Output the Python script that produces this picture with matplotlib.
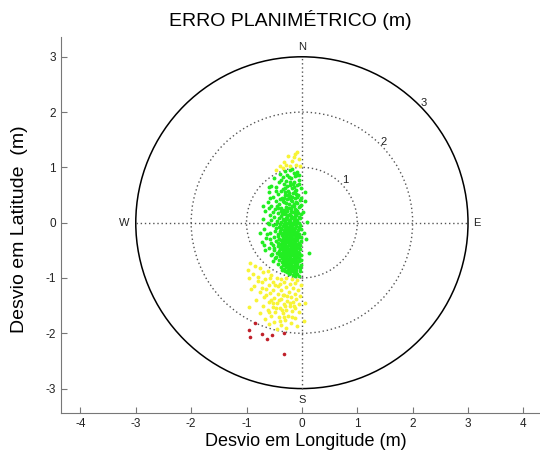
from matplotlib import pyplot as plt
from matplotlib.patches import Circle
import numpy as np

# pontos (m)
green_x = [-0.30, -0.22, -0.15, -0.40, -0.08, -0.26, -0.12, -0.35, -0.50, -0.19,
           -0.05, -0.28, -0.42, -0.14, -0.33, -0.22, -0.08, -0.55, -0.46, -0.18, -0.30, -0.11, -0.38, -0.02, 0.05,
           -0.25, -0.60, -0.16, -0.44, -0.31, -0.07, -0.21, -0.52, -0.36, -0.12, -0.27, -0.03, -0.47, -0.17, -0.62,
           -0.33, -0.09, -0.41, -0.24, -0.14, -0.55, -0.29, -0.05, -0.37, -0.19, -0.48, -0.11, -0.66, -0.26, -0.34, 0.02,
           -0.16, -0.43, -0.07, -0.30, -0.22, -0.58, -0.38, -0.13, -0.27, -0.50, -0.03, -0.19, -0.34, -0.70, -0.09, -0.24,
           -0.45, -0.15, -0.31, -0.62, -0.05, 0.10,
           -0.20, -0.40, -0.12, -0.28, -0.53, -0.35, -0.06, -0.23, -0.17, -0.46, -0.31, -0.02, -0.68, -0.26, -0.14, -0.39,
           -0.09, -0.21, -0.57, -0.33, -0.27, -0.43, -0.15, 0.04,
           -0.05, -0.24, -0.36, -0.11, -0.50, -0.19, -0.30, -0.64, -0.08, -0.41, -0.25, -0.15, -0.34, -0.02, -0.47, -0.21,
           -0.28, -0.12, -0.55, -0.38, -0.18, -0.06, -0.72,
           -0.31, -0.24, -0.44, -0.10, -0.35, -0.16, -0.60, -0.27, -0.03, -0.40, -0.20, -0.50, -0.13, -0.33, -0.07, -0.25,
           -0.45, -0.17, -0.38, -0.29, -0.01, -0.56, -0.11,
           -0.22, -0.34, -0.48, -0.06, -0.27, -0.15, -0.41, -0.31, -0.20, -0.09, -0.52, -0.36, -0.25, -0.13, -0.02, -0.44,
           -0.30, -0.18,
           -0.38, -0.08, -0.24, -0.14, -0.32, -0.03, -0.20, -0.27, -0.10, -0.16, -0.05,
           -0.26, -0.13, -0.32, -0.20, -0.08, -0.36, -0.25, -0.10, -0.18, -0.41, -0.29, -0.13, -0.22, -0.37, -0.08, -0.27,
           -0.15, -0.33, -0.21, -0.10, -0.42, -0.29, -0.16, -0.37, -0.22, -0.07, -0.31, -0.19, -0.12, -0.38, -0.23, -0.09,
           -0.29, -0.17, -0.43, -0.34, -0.23, -0.12, -0.27, -0.19, -0.38, -0.09, -0.30, -0.24, -0.16, -0.43, -0.33, -0.09,
           -0.22, -0.27, -0.14, -0.37, -0.20, -0.30, -0.06, -0.24, -0.13, -0.35, -0.17, -0.28, -0.42, -0.22, -0.10, -0.31,
           -0.19, -0.26, -0.40, -0.14, -0.29, -0.21, -0.35, -0.11, -0.26, -0.17, -0.32, -0.22, -0.11, -0.28, -0.18, -0.23,
           -0.23, -0.12, -0.35, -0.26, -0.16, -0.38, -0.24, -0.09, -0.32, -0.20, -0.40, -0.08, -0.28, -0.15, -0.45, -0.02,
           -0.52, -0.60, -0.48, -0.58, -0.66, -0.52, -0.46, -0.75, -0.70, -0.60, 0.08, 0.06, 0.12,
           -0.02, -0.04, -0.01, -0.03, -0.05, -0.02, -0.04, -0.01, -0.03, -0.06,
           -0.11, -0.18, -0.24, -0.31, -0.12, -0.20, -0.28, -0.15, -0.33, -0.25,
           -0.11, -0.18, -0.30, -0.37, -0.24, -0.13, -0.06, -0.20, -0.33, -0.27,
           -0.16, -0.08, -0.35, -0.21, -0.13, -0.28, -0.06, -0.17, -0.32, -0.22,
           -0.12, -0.26, -0.36, -0.19, -0.06, -0.30, -0.13, -0.24, -0.18, -0.33,
           -0.09, -0.26, -0.15, -0.21, -0.38, -0.30, -0.10, -0.18, -0.24, -0.36,
           -0.14, -0.28, -0.20, -0.07, -0.33, -0.24, -0.15, -0.09, -0.30, -0.22,
           -0.36, -0.18, -0.26, -0.12, -0.05, -0.31, -0.22, -0.15, -0.28, -0.08,
           -0.20, -0.35, -0.14, -0.25, -0.06, -0.19, -0.32, -0.11, -0.25, -0.15,
           -0.08, -0.21, -0.13, -0.30, -0.36, -0.17, -0.27, -0.14, -0.22, -0.05,
           -0.30, -0.10, -0.35, -0.24, -0.43, -0.38, -0.56, -0.47, -0.42, -0.50,
           -0.54, -0.41, -0.63, -0.60, -0.57, -0.47, -0.68, -0.06, -0.17]
green_y = [0.93, 0.95, 0.90, 0.88, 0.92, 0.86, 0.84, 0.82, 0.80, 0.80,
           0.78, 0.76, 0.74, 0.73, 0.70, 0.69, 0.68, 0.66, 0.64, 0.63, 0.62, 0.60, 0.58, 0.62, 0.55,
           0.57, 0.55, 0.54, 0.52, 0.50, 0.50, 0.48, 0.46, 0.45, 0.44, 0.42, 0.41, 0.40, 0.39, 0.38,
           0.37, 0.36, 0.34, 0.33, 0.31, 0.30, 0.29, 0.28, 0.27, 0.26, 0.24, 0.23, 0.22, 0.21, 0.20, 0.20,
           0.19, 0.18, 0.17, 0.16, 0.15, 0.14, 0.12, 0.12, 0.11, 0.10, 0.09, 0.08, 0.07, 0.06, 0.05, 0.04,
           0.03, 0.02, 0.01, 0.00, 0.00, 0.02,
           -0.01, -0.02, -0.03, -0.04, -0.05, -0.06, -0.07, -0.08, -0.09, -0.10, -0.11, -0.12, -0.12, -0.13, -0.14, -0.15,
           -0.16, -0.17, -0.18, -0.18, -0.19, -0.20, -0.20, -0.19,
           -0.21, -0.22, -0.23, -0.24, -0.25, -0.26, -0.27, -0.28, -0.28, -0.29, -0.30, -0.31, -0.32, -0.33, -0.34, -0.34,
           -0.35, -0.36, -0.37, -0.38, -0.39, -0.39, -0.35,
           -0.40, -0.41, -0.42, -0.43, -0.44, -0.45, -0.46, -0.47, -0.47, -0.48, -0.49, -0.50, -0.51, -0.52, -0.53, -0.54,
           -0.55, -0.56, -0.57, -0.58, -0.58, -0.59, -0.60,
           -0.61, -0.62, -0.63, -0.64, -0.65, -0.66, -0.67, -0.69, -0.70, -0.71, -0.70, -0.72, -0.74, -0.75, -0.76, -0.75,
           -0.77, -0.78,
           -0.80, -0.81, -0.82, -0.84, -0.85, -0.87, -0.88, -0.90, -0.91, -0.94, -0.96,
           0.27, 0.25, 0.23, 0.22, 0.21, 0.16, 0.14, 0.14, 0.11, 0.08, 0.06, 0.06, 0.03, 0.02, 0.02, -0.01,
           -0.02, -0.03, -0.05, -0.06, -0.07, -0.08, -0.11, -0.12, -0.13, -0.13, -0.15, -0.15, -0.18, -0.19, -0.19, -0.22,
           -0.23, -0.23, -0.24, -0.26, -0.27, -0.28, -0.28, -0.30, -0.31, -0.32, -0.33, -0.36, -0.36, -0.37, -0.37, -0.38,
           -0.39, -0.42, -0.41, -0.41, -0.44, -0.45, -0.45, -0.48, -0.47, -0.49, -0.52, -0.51, -0.52, -0.55, -0.56, -0.55,
           -0.59, -0.60, -0.61, -0.63, -0.63, -0.66, -0.66, -0.68, -0.69, -0.72, -0.73, -0.77, -0.79, -0.81, -0.85, -0.93,
           0.53, 0.57, 0.61, 0.66, 0.70, 0.77, 0.82, 0.86, 0.45, 0.41, 0.43, 0.46, 0.36, 0.34, 0.31, 0.32,
           0.19, -0.02, -0.15, -0.30, -0.50, -0.40, -0.62, -0.18, 0.30, 0.65, -0.30, 0.40, -0.55,
           0.15, -0.05, -0.25, -0.40, -0.55, -0.68, -0.82, 0.45, 0.30, 0.10,
           0.38, 0.30, 0.26, 0.18, 0.18, 0.12, 0.09, 0.05, 0.04, 0.00,
           -0.01, -0.04, -0.05, -0.09, -0.10, -0.10, -0.10, -0.12, -0.14, -0.16,
           -0.16, -0.18, -0.21, -0.21, -0.22, -0.25, -0.26, -0.27, -0.29, -0.31,
           -0.33, -0.34, -0.35, -0.35, -0.36, -0.39, -0.39, -0.40, -0.42, -0.43,
           -0.44, -0.45, -0.46, -0.47, -0.46, -0.49, -0.50, -0.50, -0.52, -0.54,
           -0.54, -0.56, -0.57, -0.58, -0.59, -0.58, -0.60, -0.62, -0.61, -0.63,
           -0.64, -0.65, -0.67, -0.67, -0.69, -0.70, -0.71, -0.72, -0.74, -0.74,
           -0.75, -0.77, -0.78, -0.79, -0.80, -0.82, -0.83, -0.85, -0.86, -0.89,
           -0.93, -0.91, -0.97, -0.88, -0.86, 0.47, 0.50, 0.64, 0.74, 0.70,
           0.56, 0.52, 0.40, 0.44, 0.26, 0.22, 0.04, -0.03, -0.30, -0.45,
           -0.57, -0.56, -0.20, 0.26, 0.45, 0.58, -0.40, 0.87, 0.97]

yellow_x = [-0.25, -0.12, -0.32, -0.18, -0.05, -0.40, -0.28, -0.10, -0.22, -0.35, -0.46, -0.04, -0.15, -0.08,
            -0.94, -0.85, -0.98, -0.76, -0.88, -0.70, -0.62, -0.95, -0.80, -0.55, -0.66, -0.45, -0.38, -0.28, -0.18, -0.08,
            -0.72, -0.52, -0.60, -0.33, -0.22, -0.12, -0.02, -0.86, -0.44, -0.28, -0.65, -0.16, -0.52, -0.37, -0.07, -0.76,
            -0.24, -0.58, -0.44, -0.13, -0.32, -0.68, -0.20, -0.03, -0.50, -0.38, -0.10, -0.82, -0.27, -0.60, -0.16, -0.45,
            -0.33, -0.05, -0.70, -0.22, -0.53, -0.40, -0.12, -0.28, -0.62, -0.48, -0.18, -0.35, -0.75, -0.06, -0.25, -0.56,
            -0.42, -0.13, -0.66, -0.30, -0.50, -0.20, -0.38, -0.60, -0.08, -0.28, -0.45, 0.03, 0.05, -0.92, -0.95,
            -0.57, -0.48, -0.40, -0.35, -0.27, -0.55, -0.42, -0.30, -0.46, -0.36, -0.22, -0.14, -0.33, -0.52, -0.65, -0.72,
            -0.80, -0.60, -0.40, -0.18]
yellow_y = [1.20, 1.24, 1.10, 1.12, 1.15, 1.02, 1.04, 1.05, 1.02, 0.98, 0.95, 1.02, 1.18, 1.28,
            -0.73, -0.78, -0.85, -0.82, -0.92, -0.90, -0.88, -1.00, -0.98, -0.95, -1.02, -1.00, -1.02, -1.00, -1.02, -1.03,
            -1.08, -1.08, -1.12, -1.07, -1.10, -1.09, -1.12, -1.14, -1.15, -1.16, -1.20, -1.18, -1.22, -1.22, -1.21, -1.26,
            -1.25, -1.28, -1.29, -1.29, -1.31, -1.34, -1.34, -1.33, -1.36, -1.38, -1.38, -1.40, -1.41, -1.43, -1.44, -1.45,
            -1.47, -1.47, -1.50, -1.50, -1.52, -1.54, -1.54, -1.57, -1.58, -1.61, -1.60, -1.63, -1.64, -1.62, -1.68, -1.68,
            -1.71, -1.72, -1.74, -1.76, -1.79, -1.81, -1.85, -1.84, -1.86, -1.90, -1.92, -1.78, -1.45, -1.20, -1.52,
            -1.00, -1.12, -1.10, -1.30, -1.33, -1.40, -1.40, -1.50, -1.55, -1.58, -1.45, -1.50, -1.70, -1.46, -1.30, -1.18,
            -1.05, -1.62, -1.78, -1.70]

red_x = [-0.96, -0.94, -0.72, -0.63, -0.54, -0.32, -0.32, -0.85]
red_y = [-1.94, -2.07, -2.01, -2.10, -2.03, -1.99, -2.37, -1.81]

raios = [1, 2, 3]
x_ticks = [-4, -3, -2, -1, 0, 1, 2, 3, 4]
y_ticks = [-3, -2, -1, 0, 1, 2, 3]

plt.rcParams['font.family'] = ['Liberation Sans', 'DejaVu Sans']
plt.rcParams['axes.unicode_minus'] = False
fig = plt.figure(figsize=(5.4, 4.61), dpi=100)
ax = fig.add_axes([0.113, 0.1048, 0.887, 0.814])

# circulos e cruz
for r in raios:
    if r == raios[-1]:
        c = Circle((0, 0), r, fill=False, color='black', lw=1.1, zorder=1)
    else:
        c = Circle((0, 0), r, fill=False, color='#555555', lw=1.0, ls=(0, (1, 2)), zorder=1)
    ax.add_patch(c)
ax.plot([-3, 3], [0, 0], color='#555555', lw=1.0, ls=(0, (1, 2)), zorder=1)
ax.plot([0, 0], [-3, 3], color='#555555', lw=1.0, ls=(0, (1, 2)), zorder=1)

ax.plot(green_x, green_y, 'o', ms=2.8, mew=0, color='#22ee22', zorder=3)
ax.plot(yellow_x, yellow_y, 'o', ms=2.8, mew=0, color='#f8f436', zorder=3)
ax.plot(red_x, red_y, 'o', ms=2.6, mew=0, color='#c0202a', zorder=3)

lbl = dict(fontsize=8, color='#222222', ha='center', va='center')
ax.text(0, 3.18, 'N', **lbl)
ax.text(0, -3.2, 'S', **lbl)
ax.text(-3.2, 0, 'W', **lbl)
ax.text(3.16, 0, 'E', **lbl)
ax.text(0.78, 0.78, '1', **lbl)
ax.text(1.48, 1.46, '2', **lbl)
ax.text(2.2, 2.17, '3', **lbl)

ax.set_xlim(-4.35, 4.3)
ax.set_ylim(-3.436, 3.35)
ax.set_xticks(x_ticks)
ax.set_yticks(y_ticks)
ax.tick_params(direction='in', length=4, labelsize=8.5, colors='#222222', width=0.8)
ax.tick_params(color='#777777')
for s in ['top', 'right']:
    ax.spines[s].set_visible(False)
for s in ['left', 'bottom']:
    ax.spines[s].set_color('#777777')

fig.text(290 / 540, 1 - 20 / 461, 'ERRO PLANIMÉTRICO (m)', fontsize=14, ha='center', va='center')
fig.text(306 / 540, 1 - 441 / 461, 'Desvio em Longitude (m)', fontsize=13, ha='center', va='center')
fig.text(20 / 540, 1 - 229 / 461, 'Desvio em Latitude  (m)', fontsize=14, ha='center', va='center',
         rotation=90)

plt.savefig('out.png')
plt.close(fig)
